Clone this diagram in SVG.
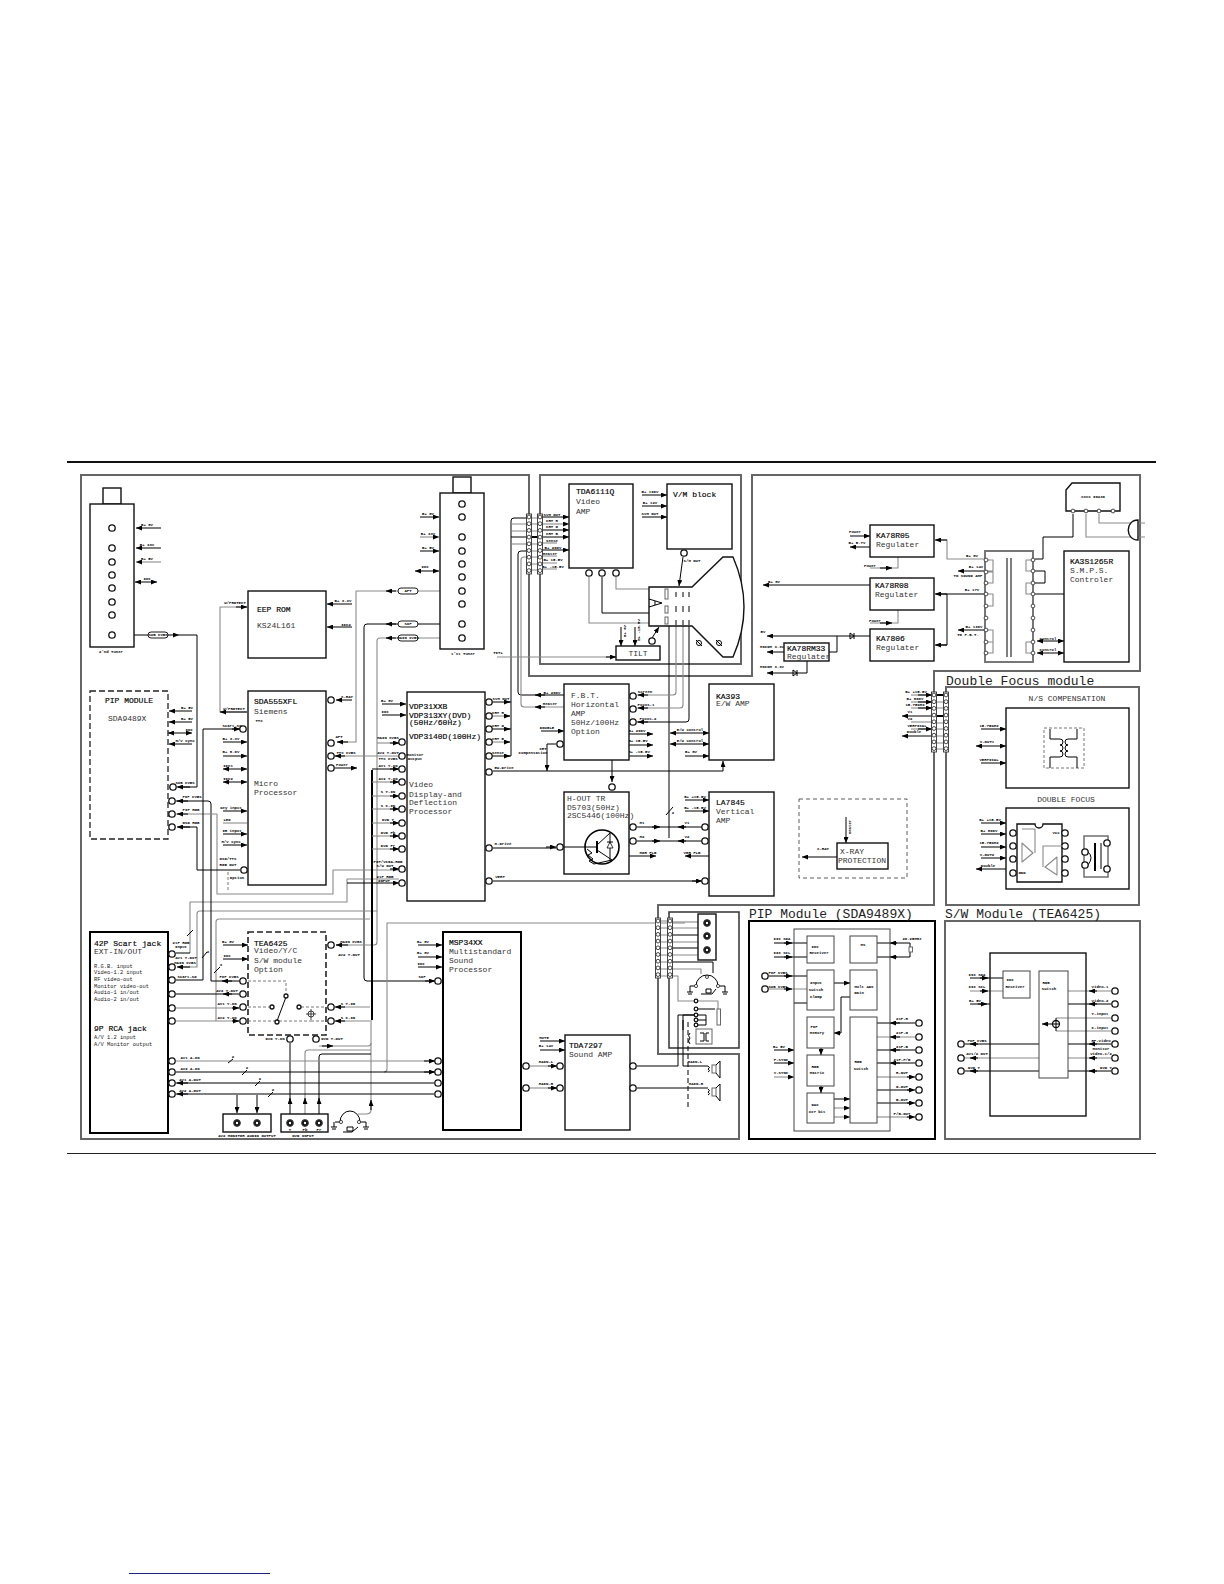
<svg xmlns="http://www.w3.org/2000/svg" width="1224" height="1584" viewBox="0 0 1224 1584">
<style>
text{font-family:"Liberation Mono","DejaVu Sans Mono",monospace;fill:#000}
.l,.m,.k,.h,.n{fill:none;stroke-linejoin:round}
.l{stroke:#000;stroke-width:1}
.m{stroke:#8a8a8a;stroke-width:1.1}
.k{stroke:#000;stroke-width:2}
.e{marker-end:url(#a)}
.d{marker-start:url(#a);marker-end:url(#a)}
.b{fill:#fff;stroke:#111;stroke-width:1.4}
.bn{fill:none;stroke:#111;stroke-width:1.4}
.bb{fill:#fff;stroke:#000;stroke-width:2}
.g{fill:#fff;stroke:#666;stroke-width:1}
.gn{fill:none;stroke:#444;stroke-width:1}
.fr{fill:none;stroke:#666;stroke-width:2}
.dash{fill:none;stroke:#222;stroke-width:1.3;stroke-dasharray:6 3}
.thin{fill:none;stroke:#555;stroke-width:.8;stroke-dasharray:3 2}
.T{font-size:8px;stroke:#000;stroke-width:.15}
.R{font-size:8px;fill:#333}
.H{font-size:13px;fill:#222}
.c8{font-size:8px;fill:#333;text-anchor:middle}
.f5{font-size:5.4px;fill:#222}
.s{font-size:4px;font-weight:bold;text-anchor:middle;dominant-baseline:central}
.p{fill:#fff;stroke:#000;stroke-width:.9}
.o{fill:#fff;stroke:#111;stroke-width:1.3}
.q{fill:#fff;stroke:#333;stroke-width:.9}
.rca{fill:#111;stroke:#444;stroke-width:1}
</style>
<defs>
<marker id="a" markerUnits="userSpaceOnUse" markerWidth="7" markerHeight="5" refX="6" refY="2.5" orient="auto-start-reverse"><path d="M0 0L6 2.5L0 5z" fill="#000"/></marker>
<circle id="o" class="o" r="3.2"/>
<circle id="q" class="q" r="1.9"/>
<g id="st"><rect class="q" x="-2.5" y="-3" width="5" height="60"/><use href="#q" y="0"/><use href="#q" y="6.7"/><use href="#q" y="13.4"/><use href="#q" y="20.1"/><use href="#q" y="26.8"/><use href="#q" y="33.5"/><use href="#q" y="40.2"/><use href="#q" y="46.9"/><use href="#q" y="53.6"/></g>
<g id="rca"><circle class="rca" r="3.4"/><circle r="1.2" fill="#fff"/></g>
</defs>
<rect width="1224" height="1584" fill="#fff"/>

<g id="rules">
<path d="M67 462H1156" stroke="#111" stroke-width="2" fill="none"/>
<path d="M67 1153.5H1156" stroke="#222" stroke-width="1" fill="none"/>
<path d="M129 1573.5H270" stroke="#1a237e" stroke-width="1" fill="none"/>
</g>

<g id="frames">
<path class="fr" d="M81 475H529V676H752V475H1140V671H934V905H658V1054H739V1139H81Z"/>
<path class="fr" d="M540 475H741V664H540Z"/>
<path class="fr" d="M946 687H1139V905H946Z"/>
<path d="M669 912H739V1048H669Z" fill="none" stroke="#333" stroke-width="1.5"/>
<path d="M749 921H935V1139H749Z" fill="none" stroke="#000" stroke-width="2"/>
<path class="fr" d="M945 921H1140V1139H945Z"/>
<text class="H" x="946" y="685">Double Focus module</text>
<text class="H" x="749" y="918">PIP Module (SDA9489X)</text>
<text class="H" x="945" y="918">S/W Module (TEA6425)</text>
</g>

<g id="connectors">
<path class="l e" d="M161 528H136"/><path class="l e" d="M161 548H136"/><path class="m e" d="M161 562H136"/><path class="l d" d="M135 582H157"/>
<path class="l e" d="M115 635H179"/><path class="l" d="M179 635H197V787H178"/>
<path class="l e" d="M190 787H177"/>
<path class="l e" d="M420 517H439"/><path class="m e" d="M420 537H439"/><path class="l e" d="M420 551H439"/><path class="l d" d="M415 571H439"/>
<path class="m" d="M459 591H356V742H338"/><path class="l e" d="M396 591H386"/><path class="l e" d="M348 742H337"/>
<path class="l" d="M459 624H367Q364 624 364 627V978Q364 981 367 981H434"/><path class="l e" d="M396 624H386"/>
<path class="l e" d="M425 981H435"/>
<path class="m" d="M459 638H380Q377 638 377 641V942Q377 945 374 945H336"/><path class="l e" d="M396 638H386"/><path class="l e" d="M348 945H336"/>
<path class="m" d="M377 743H399"/><path class="l e" d="M390 743H399"/>
<path class="m" d="M377 911H200Q197 911 197 914V967H178"/><path class="l e" d="M190 967H177"/>
<path class="m" d="M216 1021V922Q216 919 219 919H370"/>
<path class="m" d="M190 953V902H347V879H399"/><path class="l" d="M190 953H176"/><path class="l e" d="M390 883H399"/><path class="l" d="M347 883H390"/>
<path class="l" d="M187 936L193 930"/><path class="l" d="M202 958L207 952"/><path class="l" d="M214 973L220 967"/>
<text class="s" x="208" y="952">2</text><text class="s" x="221" y="965">3</text>
<path class="m" d="M685 923H387V1069Q387 1072 384 1072"/>
<path class="l e" d="M192 711H169"/><path class="l e" d="M192 722H169"/><path class="l d" d="M168 733H192"/><path class="l e" d="M192 744H169"/>
<path class="l" d="M176 801H208Q211 801 211 804V981H240"/><path class="l e" d="M188 801H177"/><path class="l e" d="M232 981H222"/>
<path class="m" d="M176 814H217V894H333V870H398"/><path class="l e" d="M188 814H177"/><path class="l e" d="M390 869H399"/>
<path class="l" d="M240 870H197V827H178"/><path class="l e" d="M190 827H177"/>
<path class="thin" d="M228 872V892"/>
<path class="l" d="M240 729H203V980H176"/><path class="l e" d="M232 729H240"/>
<path class="l e" d="M223 742H247"/><path class="l e" d="M223 756H247"/><path class="l d" d="M223 769H247"/><path class="l d" d="M223 782H247"/><path class="l e" d="M223 811H247"/><path class="m" d="M223 823H247"/><path class="l e" d="M223 834H247"/><path class="l e" d="M223 845H247"/>
<path class="m" d="M247 712H220V607H247"/><path class="l e" d="M247 712H220"/><path class="l e" d="M236 607H247"/>
<path class="l e" d="M352 604H327"/><path class="l e" d="M352 627H327"/>
<path class="l e" d="M352 700H336"/><path class="m" d="M335 756H398"/><path class="l e" d="M345 756H335"/>
<path class="l e" d="M335 768H357"/>
<path class="l e" d="M382 704H406"/><path class="l e" d="M382 715H406"/>
<path class="k" d="M372 770V1020"/>
<path class="l" d="M372 769H398"/><path class="l e" d="M390 769H399"/>
<path class="m" d="M372 782H398"/><path class="l e" d="M390 782H399"/><path class="m" d="M372 796H398"/><path class="l e" d="M390 796H399"/><path class="m" d="M372 809H398"/><path class="l e" d="M390 809H399"/><path class="m" d="M372 823H398"/><path class="l e" d="M390 823H399"/><path class="m" d="M372 836H398"/><path class="l e" d="M390 836H399"/><path class="m" d="M372 849H398"/><path class="l e" d="M390 849H399"/>
<path class="l e" d="M223 945H248"/><path class="l e" d="M223 959H248"/>
<path class="l" d="M176 994H239"/><path class="l e" d="M232 994H223"/>
<path class="m" d="M176 1008H239"/><path class="l e" d="M232 1008H239"/><path class="m" d="M176 1021H239"/><path class="l e" d="M232 1021H239"/>
<path class="m" d="M371 1020V1110Q371 1114 366 1114H358"/><path class="l e" d="M371 1110V1100"/>
<path class="m" d="M370 1007H336"/><path class="l e" d="M345 1007H335"/><path class="m" d="M370 1021H336"/><path class="l e" d="M345 1021H335"/>
<path class="m" d="M319 1046H368Q371 1046 371 1043"/><path class="l e" d="M322 1046H333"/>
<path class="m" d="M305 1114V1053Q305 1050 308 1050H371"/><path class="l" d="M319 1114V1057Q319 1054 322 1054H371"/>
<path class="l" d="M290 1043V1114"/>
<path class="l e" d="M290 1104V1098"/><path class="l e" d="M305 1104V1098"/><path class="l e" d="M319 1104V1098"/>
<path class="m" d="M176 1061H434"/><path class="l" d="M176 1072H434"/><path class="l" d="M176 1083H434"/><path class="l" d="M176 1094H434"/>
<path class="l e" d="M424 1061H435"/><path class="l e" d="M424 1072H435"/><path class="l e" d="M188 1083H177"/><path class="l e" d="M188 1094H177"/>
<path class="l" d="M228 1063L233 1059M242 1075L247 1070M255 1086L260 1081M268 1097L273 1092"/>
<text class="s" x="233" y="1057">2</text><text class="s" x="247" y="1068">2</text><text class="s" x="260" y="1079">2</text><text class="s" x="273" y="1090">2</text>
<path class="l e" d="M237 1095V1113"/><path class="l e" d="M257 1095V1113"/>
<path class="l e" d="M418 945H442"/><path class="l e" d="M418 957H442"/><path class="l e" d="M418 967H442"/>
<path class="m" d="M530 1066H556"/><path class="l e" d="M548 1066H557"/><path class="m" d="M530 1088H556"/><path class="l e" d="M548 1088H557"/>
<path class="l e" d="M540 1041H565"/><path class="l e" d="M540 1050H565"/>
<path class="l" d="M637 1066H678V1015H697"/><path class="l" d="M637 1088H708"/><path class="l" d="M683 1020V1066H708"/>
<path d="M688 1022V1107" fill="none" stroke="#000" stroke-width="1" stroke-dasharray="5 3"/>
<path class="m" d="M670 922H699"/><path class="m" d="M670 928H707V925"/><path class="l" d="M670 935H707"/><path class="m" d="M670 942H707V939"/><path class="l" d="M670 948H707"/><path class="m" d="M670 955H707V952"/><path class="l" d="M670 962H713V973"/><path class="m" d="M670 969H701V974"/><path class="m" d="M670 976H678V1001H718V1010"/>
<path class="m" d="M660 921H668M660 928H668M660 935H668M660 942H668M660 948H668M660 955H668M660 962H668M660 969H668M660 976H668"/>
<path class="l" d="M527 518H514Q511 518 511 521V756"/><path class="m" d="M527 524H511M527 531H511"/><path class="l" d="M527 537H511"/><path class="m" d="M527 544H511"/>
<path class="l" d="M492 702H511"/><path class="l e" d="M505 702H510"/><path class="m" d="M492 716H511"/><path class="l e" d="M505 716H510"/><path class="l" d="M492 729H511"/><path class="l e" d="M505 729H510"/><path class="m" d="M492 742H511"/><path class="l e" d="M505 742H510"/><path class="l" d="M492 756H511"/><path class="l e" d="M505 756H510"/>
<path class="l" d="M527 551H521Q518 551 518 554V692Q518 695 521 695H564"/><path class="l e" d="M545 695H535"/>
<path class="m" d="M527 557H524Q521 557 521 560V704Q521 707 524 707H564"/><path class="l e" d="M545 707H535"/>
<path class="m" d="M532 518H538M532 524H538M532 531H538M532 544H538M532 551H538M532 557H538M532 564H538M532 570H538"/><path class="k" d="M532 537H538"/>
<path class="l e" d="M543 517H569"/><path class="m e" d="M543 524H569"/><path class="l e" d="M543 530H569"/><path class="l e" d="M543 537H569"/><path class="m" d="M543 543H557"/><path class="l e" d="M543 550H569"/>
<path class="m" d="M543 556H557M543 563H557M543 569H557"/>
<path class="l e" d="M642 495H667"/><path class="l e" d="M642 506H667"/><path class="l e" d="M642 517H667"/>
<path class="m" d="M616 577V589H649"/><path class="l" d="M602 577V613H649"/><path class="m" d="M589 577V623H649"/>
<path class="l e" d="M683 557L679 586"/>
<path class="m" d="M497 657H616"/><path class="l e" d="M606 657H616"/>
<path class="l e" d="M621 627V646"/><path class="l e" d="M635 627V646"/>
<path class="l e" d="M652 638L659 627"/>
<path class="l" d="M669 626V838"/><path class="m" d="M676 626V692Q676 695 673 695H637"/><path class="m" d="M683 626V705Q683 708 680 708H637"/><path class="l" d="M689 626V719Q689 722 686 722H637"/>
<path class="l e" d="M648 695H638"/><path class="l e" d="M648 708H638"/><path class="l e" d="M648 722H638"/>
<path class="l" d="M666 815L673 807"/>
<path class="l e" d="M541 731H564"/><path class="l e" d="M629 734H653"/><path class="l e" d="M629 745H653"/><path class="l e" d="M629 756H653"/>
<path class="l e" d="M556 744H547V771"/>
<path class="l" d="M493 771H723"/><path class="l e" d="M723 771V761"/>
<path class="l e" d="M612 760V782"/>
<path class="l" d="M493 848H556"/><path class="l e" d="M546 847H556"/>
<path class="l" d="M637 827H702"/><path class="l e" d="M652 827H660"/><path class="l e" d="M686 827H678"/><path class="l" d="M637 841H702"/><path class="l e" d="M652 841H660"/><path class="l e" d="M686 841H678"/>
<path class="l e" d="M629 856H656"/><path class="l e" d="M709 856H685"/>
<path class="l" d="M493 881H701"/><path class="l e" d="M692 881H702"/>
<path class="l e" d="M685 800H709"/><path class="l e" d="M685 811H709"/>
<path class="l d" d="M670 733H709"/><path class="l d" d="M670 744H709"/><path class="l e" d="M685 756H709"/>
<path class="l e" d="M850 536H870"/><path class="l e" d="M870 547H850"/>
<path class="m" d="M984 559H947V540H936"/><path class="l e" d="M947 540H935"/>
<path class="l e" d="M985 571H958"/>
<path class="l" d="M984 594H936"/><path class="l e" d="M947 594H935"/><path class="l" d="M947 594V645H936"/><path class="l e" d="M947 645H935"/>
<path class="l e" d="M985 630H958"/>
<path class="m" d="M898 557V568H870"/><path class="l e" d="M880 568H892"/>
<path class="m" d="M898 610V623H870"/><path class="l e" d="M880 623H892"/>
<path class="l e" d="M870 585H763"/>
<path class="l e" d="M870 636H767"/><path class="l" d="M854 633V639M850 633V639L854 636L850 633"/>
<path class="l" d="M837 636V652H829"/><path class="l e" d="M784 652H767"/>
<path class="l" d="M807 661V673"/><path class="l e" d="M807 673H767"/><path class="l" d="M797 670V676M793 670V676L797 673L793 670"/>
<path class="l" d="M1035 559H1043V537H1073V514"/><path class="l" d="M1035 571H1045V583H1035"/><path class="l" d="M1035 594H1064"/>
<path class="m" d="M1086 514V537H1145"/><path class="m" d="M1099 514V523H1145"/>
<path class="l d" d="M1037 641H1064"/><path class="l d" d="M1037 653H1064"/>
<path class="l e" d="M846 817V843"/><path class="l e" d="M837 857H802"/>
<path class="m" d="M911 695H932"/><path class="l e" d="M918 695H932"/><path class="m" d="M911 702H932"/><path class="l e" d="M918 702H932"/><path class="m" d="M911 708H932"/><path class="l e" d="M918 708H932"/><path class="l e" d="M932 716H902"/><path class="m" d="M911 722H932"/><path class="m" d="M911 729H932"/><path class="l e" d="M918 729H932"/><path class="l e" d="M932 736H902"/>
<path class="m" d="M937 702H944M937 708H944M937 723H944M937 729H944M937 736H944M937 743H944M937 749H944"/><path class="k" d="M937 695H944M937 716H944"/>
<path class="l e" d="M981 729H1006"/><path class="l d" d="M976 746H1006"/><path class="l e" d="M981 763H1006"/>
<path class="l e" d="M981 823H1006"/><path class="l e" d="M981 834H1006"/><path class="l e" d="M981 847H1006"/><path class="l e" d="M981 858H1006"/><path class="l e" d="M1006 869H976"/>
<path class="l" d="M774 943H807"/><path class="l e" d="M784 943H792"/><path class="l" d="M774 957H807"/><path class="l e" d="M784 957H792"/>
<path class="l" d="M769 976H807"/><path class="l e" d="M784 976H792"/><path class="m" d="M769 989H807"/><path class="l e" d="M784 989H792"/><path class="l" d="M794 1003H807"/>
<path class="l e" d="M774 1050H794"/><path class="l e" d="M774 1063H794"/><path class="m e" d="M774 1077H794"/>
<path class="l" d="M877 943H910V947M910 952V957H877"/><path class="l e" d="M897 943H890"/><path class="l e" d="M897 957H890"/>
<path class="l e" d="M834 983H850"/><path class="l" d="M850 997H841V1033"/><path class="l e" d="M841 1033H834"/>
<path class="l e" d="M821 1048V1055"/><path class="l e" d="M821 1086V1093"/>
<path class="l e" d="M834 1099H850"/><path class="m e" d="M834 1108H850"/><path class="m e" d="M834 1117H850"/>
<path class="l" d="M877 1023H915"/><path class="l e" d="M900 1023H890"/><path class="m" d="M877 1037H915"/><path class="l e" d="M900 1037H890"/><path class="l" d="M877 1050H915"/><path class="l e" d="M900 1050H890"/><path class="l" d="M877 1063H915"/><path class="l e" d="M900 1063H890"/>
<path class="m" d="M877 1077H909"/><path class="l e" d="M907 1077H915"/><path class="l" d="M877 1090H909"/><path class="l e" d="M907 1090H915"/><path class="l" d="M877 1103H909"/><path class="l e" d="M907 1103H915"/><path class="m" d="M877 1117H909"/><path class="l e" d="M907 1117H915"/>
<path class="l" d="M970 978H1003"/><path class="l e" d="M980 978H988"/><path class="m" d="M970 991H1003"/><path class="l e" d="M980 991H988"/><path class="l" d="M970 1004H990"/><path class="l e" d="M978 1004H987"/>
<path class="m" d="M1068 991H1111"/><path class="l e" d="M1097 991H1089"/><path class="l" d="M1068 1004H1111"/><path class="l e" d="M1097 1004H1089"/>
<path class="m" d="M1056 1018H1111"/><path class="m" d="M1056 1031H1111"/><path class="l" d="M1056 1018V1031"/>
<path class="l e" d="M1052 1024H1042"/>
<path class="l" d="M1068 1044H1111"/><path class="l e" d="M1097 1044H1089"/><path class="m" d="M1068 1058H1111"/><path class="l e" d="M1097 1058H1089"/><path class="l" d="M1068 1071H1111"/><path class="l e" d="M1097 1071H1089"/>
<path class="l" d="M965 1044H1039"/><path class="l e" d="M978 1044H970"/><path class="m" d="M965 1058H1039"/><path class="l e" d="M978 1058H970"/><path class="l" d="M965 1071H1039"/><path class="l e" d="M978 1071H970"/>
</g>

<g id="edge-labels">
<rect class="p" x="148" y="632" width="20" height="6" rx="3"/><text class="s" x="158" y="635">SUB CVBS</text>
<rect class="p" x="398" y="588" width="20" height="6" rx="3"/><text class="s" x="408" y="591">AFT</text>
<rect class="p" x="398" y="621" width="20" height="6" rx="3"/><text class="s" x="408" y="624">SIF</text>
<rect class="p" x="398" y="635" width="20" height="6" rx="3"/><text class="s" x="408" y="638">MAIN CVBS</text>
<text class="s" x="147" y="525">B+ 8V</text><text class="s" x="147" y="545">B+ 33V</text><text class="s" x="147" y="559">B+ 5V</text><text class="s" x="147" y="579">IIC</text>
<text class="s" x="428" y="514">B+ 8V</text><text class="s" x="428" y="534">B+ 33V</text><text class="s" x="428" y="548">B+ 5V</text><text class="s" x="425" y="567">IIC</text>
<text class="s" x="343" y="601">B+ 3.3V</text><text class="s" x="346" y="625">IIC2</text><text class="s" x="235" y="603">W/PROTECT</text><text class="s" x="234" y="709">W/PROTECT</text>
<text class="s" x="498" y="653">TITL</text>
<text class="s" x="187" y="708">B+ 5V</text><text class="s" x="187" y="719">B+ 5V</text><text class="s" x="189" y="730">IIC</text><text class="s" x="185" y="741">H/V sync</text>
<text class="s" x="185" y="783">SUB CVBS</text><text class="s" x="192" y="797">PIP CVBS</text><text class="s" x="191" y="810">PIP RGB</text><text class="s" x="191" y="823">OSD RGB</text>
<text class="s" x="232" y="726">Scart-SO</text><text class="s" x="231" y="739">B+ 3.3V</text><text class="s" x="231" y="752">B+ 8.0V</text><text class="s" x="228" y="766">IIC1</text><text class="s" x="228" y="779">IIC2</text><text class="s" x="231" y="808">Key input</text><text class="s" x="227" y="820">LED</text><text class="s" x="232" y="831">IR input</text><text class="s" x="231" y="842">H/V sync</text><text class="s" x="228" y="859">OSD/TTX</text><text class="s" x="228" y="865">RGB OUT</text><text class="s" x="237" y="878">Option</text>
<text class="s" x="347" y="697">X-RAY</text><text class="s" x="339" y="737">AFT</text><text class="s" x="346" y="753">TTX CVBS</text><text class="s" x="342" y="765">Power</text>
<text class="s" x="387" y="701">B+ 8V</text><text class="s" x="385" y="712">IIC</text><text class="s" x="388" y="738">MAIN CVBS</text><text class="s" x="388" y="753">AV2 Y-OUT</text><text class="s" x="388" y="759">TTX CVBS</text><text class="s" x="388" y="766">AV1 Y-IN</text><text class="s" x="388" y="779">AV2 Y-IN</text><text class="s" x="388" y="792">S Y-IN</text><text class="s" x="388" y="806">S C-IN</text><text class="s" x="388" y="820">DVD Y</text><text class="s" x="388" y="833">DVD Pb</text><text class="s" x="388" y="846">DVD Pr</text><text class="s" x="388" y="862">PIP/VCGA-RGB</text><text class="s" x="385" y="866">S/W OUT</text><text class="s" x="385" y="877">21P RGB</text><text class="s" x="384" y="881">INPUT</text>
<text class="s" x="501" y="699">SVM OUT</text><text class="s" x="498" y="713">CRT R</text><text class="s" x="498" y="726">CRT G</text><text class="s" x="498" y="739">CRT B</text><text class="s" x="498" y="753">Sense</text><text class="s" x="504" y="768">EW-Drive</text><text class="s" x="503" y="844">H-Drive</text><text class="s" x="500" y="877">VERT</text>
<text class="s" x="552" y="515">SVM OUT</text><text class="s" x="552" y="521">CRT R</text><text class="s" x="552" y="527">CRT G</text><text class="s" x="552" y="534">CRT B</text><text class="s" x="552" y="541">Sense</text><text class="s" x="553" y="548">B+ 200V</text><text class="s" x="550" y="554">Heater</text><text class="s" x="553" y="560">B+ 15.5V</text><text class="s" x="553" y="567">B+ -15.5V</text>
<text class="s" x="650" y="492">B+ 190V</text><text class="s" x="650" y="503">B+ 12V</text><text class="s" x="650" y="514">SVM OUT</text><text class="s" x="692" y="561">S/M OUT</text>
<text class="s" transform="translate(625 631) rotate(-90)">B+ 8V</text><text class="s" transform="translate(639 630) rotate(-90)">B+ -15.5V</text>
<text class="s" x="552" y="693">B+ 200V</text><text class="s" x="550" y="704">Heater</text><text class="s" x="547" y="728">DOUBLE</text><text class="s" x="543" y="749">CRT</text><text class="s" x="533" y="753">Compensation</text><text class="s" x="612" y="755">COIL</text>
<text class="s" x="645" y="692">Screen</text><text class="s" x="646" y="705">Focus-1</text><text class="s" x="648" y="719">Focus-2</text><text class="s" x="637" y="731">B+ 200V</text><text class="s" x="638" y="741">B+ 15.5V</text><text class="s" x="639" y="752">B+ -15.5V</text>
<text class="s" x="642" y="823">H1</text><text class="s" x="642" y="837">H2</text><text class="s" x="687" y="823">V1</text><text class="s" x="687" y="837">V2</text><text class="s" x="648" y="853">HOR FLB</text><text class="s" x="692" y="853">VER FLB</text><text class="s" x="695" y="797">B+ +15.5V</text><text class="s" x="695" y="808">B+ -15.5V</text><text class="s" x="690" y="730">E/W control</text><text class="s" x="690" y="741">E/W control</text><text class="s" x="691" y="752">B+ 8V</text><text class="s" x="673" y="813">2</text>
<text class="s" x="855" y="532">Power</text><text class="s" x="857" y="543">B+ 5.7V</text><text class="s" x="870" y="566">Power</text><text class="s" x="875" y="621">Power</text>
<text class="s" x="972" y="556">B+ 8V</text><text class="s" x="976" y="567">B+ 14V</text><text class="s" x="968" y="576">TO SOUND AMP</text><text class="s" x="972" y="590">B+ 17V</text><text class="s" x="974" y="627">B+ 130V</text><text class="s" x="968" y="635">TO F.B.T.</text>
<text class="s" x="774" y="582">B+ 8V</text><text class="s" x="763" y="632">5V</text><text class="s" x="772" y="647">MICOM 3.3V</text><text class="s" x="772" y="667">MICOM 3.3V</text>
<text class="s" x="1048" y="639">Control</text><text class="s" x="1048" y="650">Control</text>
<text class="s" x="916" y="692">B+ +15.5V</text><text class="s" x="915" y="699">B+ 800V</text><text class="s" x="915" y="705">15.75KHZ</text><text class="s" x="910" y="712">V1</text><text class="s" x="910" y="719">V2</text><text class="s" x="917" y="726">VERTICAL</text><text class="s" x="914" y="732">Double</text>
<text class="s" x="989" y="726">15.75KHZ</text><text class="s" x="987" y="742">V-OUT1</text><text class="s" x="989" y="760">VERTICAL</text>
<text class="s" x="990" y="820">B+ +15.5V</text><text class="s" x="989" y="831">B+ 800V</text><text class="s" x="989" y="843">15.75KHZ</text><text class="s" x="987" y="855">V-OUT2</text><text class="s" x="988" y="866">Double</text>
<text class="s" transform="translate(850 827) rotate(-90)">Heater</text><text class="s" x="823" y="849">X-RAY</text>
<text class="s" x="228" y="942">B+ 8V</text><text class="s" x="227" y="956">IIC</text><text class="s" x="229" y="977">PIP CVBS</text><text class="s" x="227" y="991">AV2 Y-OUT</text><text class="s" x="227" y="1004">AV1 Y-IN</text><text class="s" x="227" y="1018">AV2 Y-IN</text>
<text class="s" x="181" y="943">21P RGB</text><text class="s" x="181" y="947">Input</text><text class="s" x="186" y="958">AV1 Y-OUT</text><text class="s" x="185" y="963">MAIN CVBS</text><text class="s" x="187" y="977">Scart-SO</text>
<text class="s" x="351" y="942">MAIN CVBS</text><text class="s" x="349" y="955">AV2 Y-OUT</text><text class="s" x="348" y="1004">S Y-IN</text><text class="s" x="348" y="1018">S C-IN</text><text class="s" x="275" y="1039">DVD Y-IN</text><text class="s" x="332" y="1039">DVD Y-OUT</text>
<text class="s" x="190" y="1058">AV1 A-IN</text><text class="s" x="190" y="1069">AV2 A-IN</text><text class="s" x="190" y="1080">AV1 A-OUT</text><text class="s" x="190" y="1091">AV2 A-OUT</text>
<text class="s" x="423" y="942">B+ 8V</text><text class="s" x="423" y="953">B+ 8V</text><text class="s" x="421" y="964">IIC</text><text class="s" x="422" y="977">SIF</text>
<text class="s" x="544" y="1038">MUTE</text><text class="s" x="546" y="1046">B+ 14V</text><text class="s" x="546" y="1062">MAIN-L</text><text class="s" x="546" y="1084">MAIN-R</text><text class="s" x="695" y="1062">MAIN-L</text><text class="s" x="696" y="1084">MAIN-R</text>
<text class="s" x="782" y="939">IIC SDA</text><text class="s" x="782" y="953">IIC SCL</text><text class="s" x="778" y="973">PIP CVBS</text><text class="s" x="778" y="987">SUB CVBS</text><text class="s" x="779" y="1047">B+ 5V</text><text class="s" x="781" y="1060">F-SYNC</text><text class="s" x="781" y="1073">V-SYNC</text><text class="s" x="912" y="939">20.25MHz</text>
<text class="s" x="902" y="1019">21P-R</text><text class="s" x="902" y="1033">21P-G</text><text class="s" x="902" y="1047">21P-B</text><text class="s" x="902" y="1060">21P-F/B</text><text class="s" x="902" y="1073">R-OUT</text><text class="s" x="902" y="1087">G-OUT</text><text class="s" x="902" y="1100">B-OUT</text><text class="s" x="902" y="1114">F/B-OUT</text>
<text class="s" x="977" y="975">IIC SDA</text><text class="s" x="977" y="987">IIC SCL</text><text class="s" x="975" y="1001">B+ 5V</text><text class="s" x="977" y="1041">PIP CVBS</text><text class="s" x="977" y="1054">AV1/2 OUT</text><text class="s" x="974" y="1068">DVD Y</text>
<text class="s" x="1100" y="987">Video-1</text><text class="s" x="1100" y="1001">Video-2</text><text class="s" x="1100" y="1014">Y-input</text><text class="s" x="1100" y="1028">C-input</text><text class="s" x="1101" y="1041">RF-video</text><text class="s" x="1101" y="1049">Monitor</text><text class="s" x="1101" y="1054">Video-1/2</text><text class="s" x="1106" y="1068">DVD Y</text>
</g>

<g id="tuner2"><rect class="b" x="103" y="488" width="18" height="16"/><rect class="b" x="90" y="504" width="44" height="143"/>
<use href="#o" x="112" y="528"/><use href="#o" x="112" y="548"/><use href="#o" x="112" y="562"/><use href="#o" x="112" y="575"/><use href="#o" x="112" y="588"/><use href="#o" x="112" y="602"/><use href="#o" x="112" y="615"/><use href="#o" x="112" y="635"/>
<text class="s" x="111" y="652">2'nd Tuner</text></g>

<g id="tuner1"><rect class="b" x="453" y="477" width="18" height="16"/><rect class="b" x="440" y="493" width="44" height="156"/>
<use href="#o" x="462" y="504"/><use href="#o" x="462" y="517"/><use href="#o" x="462" y="537"/><use href="#o" x="462" y="551"/><use href="#o" x="462" y="564"/><use href="#o" x="462" y="577"/><use href="#o" x="462" y="591"/><use href="#o" x="462" y="604"/><use href="#o" x="462" y="624"/><use href="#o" x="462" y="638"/>
<text class="s" x="463" y="654">1'st Tuner</text></g>

<g id="eeprom"><rect class="b" x="248" y="591" width="78" height="67"/><text class="T" x="257" y="612">EEP ROM</text><text class="R" x="257" y="628">KS24L161</text></g>

<g id="pip-module"><rect class="dash" x="90" y="691" width="78" height="148"/><text class="T" x="105" y="703">PIP MODULE</text><text class="R" x="108" y="721">SDA9489X</text>
<use href="#o" x="173" y="787"/><use href="#o" x="172" y="801"/><use href="#o" x="172" y="814"/><use href="#o" x="172" y="827"/></g>

<g id="sda"><rect class="b" x="248" y="691" width="78" height="194"/><text class="T" x="254" y="704">SDA555XFL</text><text class="R" x="254" y="714">Siemens</text><text class="s" x="259" y="721">TTX</text><text class="R" x="254" y="786">Micro</text><text class="R" x="254" y="795">Processor</text>
<use href="#o" x="243" y="729"/><use href="#o" x="244" y="870"/><use href="#o" x="331" y="700"/><use href="#o" x="331" y="743"/><use href="#o" x="331" y="756"/><use href="#o" x="331" y="768"/></g>

<g id="vdp"><rect class="b" x="407" y="692" width="78" height="209"/><text class="T" x="409" y="709">VDP31XXB</text><text class="T" x="409" y="718">VDP313XY(DVD)</text><text class="T" x="409" y="725">(50Hz/60Hz)</text><text class="T" x="409" y="739">VDP3140D(100Hz)</text><text class="R" x="409" y="787">Video</text><text class="R" x="409" y="797">Display-and</text><text class="R" x="409" y="805">Deflection</text><text class="R" x="409" y="814">Processor</text>
<text class="s" x="415" y="755">Monitor</text><text class="s" x="415" y="759">Output</text>
<use href="#o" x="402" y="742"/><use href="#o" x="402" y="756"/><use href="#o" x="402" y="769"/><use href="#o" x="402" y="782"/><use href="#o" x="402" y="796"/><use href="#o" x="402" y="809"/><use href="#o" x="402" y="823"/><use href="#o" x="402" y="836"/><use href="#o" x="402" y="849"/><use href="#o" x="402" y="869"/><use href="#o" x="402" y="883"/>
<use href="#o" x="489" y="702"/><use href="#o" x="489" y="716"/><use href="#o" x="489" y="729"/><use href="#o" x="489" y="742"/><use href="#o" x="489" y="756"/><use href="#o" x="489" y="772"/><use href="#o" x="489" y="848"/><use href="#o" x="489" y="881"/></g>

<g id="tda6111"><rect class="b" x="569" y="484" width="64" height="84"/><text class="T" x="576" y="494">TDA6111Q</text><text class="R" x="576" y="504">Video</text><text class="R" x="576" y="514">AMP</text><use href="#o" x="589" y="573"/><use href="#o" x="602" y="573"/><use href="#o" x="616" y="573"/></g>
<g id="vm-block"><rect class="b" x="667" y="484" width="65" height="65"/><text class="T" x="673" y="497">V/M block</text><use href="#o" x="684" y="553"/></g>

<g id="crt"><path class="b" d="M649 587H692L723 557H733Q755 607 733 657H723L692 626H649Z"/>
<rect class="g" x="665" y="589" width="3" height="10"/><rect class="g" x="665" y="606" width="3" height="7"/><rect class="g" x="665" y="617" width="3" height="7"/>
<path class="l" d="M649 599L662 603L649 607M655 601V605"/>
<path class="l" d="M676 592V597M683 592V597M689 592V597M676 606V612M683 606V612M689 606V612M676 620V625M683 620V625M689 620V625"/>
<circle class="l" cx="699" cy="643" r="2.5"/><circle class="l" cx="719" cy="643" r="2.5"/><path class="l" d="M696 640L702 646M716 640L722 646"/>
<use href="#o" x="652" y="641"/></g>
<g id="tilt"><rect class="b" x="616" y="646" width="44" height="14"/><text class="c8" x="638" y="656">TILT</text></g>

<g id="connector-a"><use href="#st" x="529" y="517"/><use href="#st" x="540" y="517"/></g>
<g id="connector-b"><use href="#st" x="658" y="921"/><use href="#st" x="670" y="921"/></g>
<g id="connector-c"><use href="#st" x="934" y="695"/><use href="#st" x="946" y="695"/></g>

<g id="fbt"><rect class="b" x="564" y="684" width="65" height="76"/><text class="R" x="571" y="698">F.B.T.</text><text class="R" x="571" y="707">Horizontal</text><text class="R" x="571" y="716">AMP</text><text class="R" x="571" y="725">50Hz/100Hz</text><text class="R" x="571" y="734">Option</text>
<use href="#o" x="560" y="744"/><use href="#o" x="633" y="696"/><use href="#o" x="633" y="709"/><use href="#o" x="633" y="722"/></g>
<g id="ka393"><rect class="b" x="709" y="684" width="65" height="76"/><text class="T" x="716" y="699">KA393</text><text class="R" x="716" y="706">E/W AMP</text></g>
<g id="h-out"><rect class="b" x="564" y="792" width="65" height="82"/><text class="R" x="567" y="801">H-OUT TR</text><text class="R" x="567" y="810">D5703(50Hz)</text><text class="R" x="567" y="818">2SC5446(100Hz)</text>
<circle cx="602" cy="847" r="17" fill="#fff" stroke="#000" stroke-width="1.6"/><path class="l" d="M564 847H597M597 845L610 833V861M597 850L612 860"/><path class="k" d="M597 841V853"/><path class="l" d="M587 849L592 853L588 855L593 859L589 861L594 864L612 860"/><path d="M607 848H613L610 842Z" fill="#fff" stroke="#000" stroke-width=".8"/><path class="l" d="M607 842H613"/>
<use href="#o" x="560" y="847"/><use href="#o" x="612" y="787"/><use href="#o" x="633" y="827"/><use href="#o" x="633" y="841"/></g>
<g id="la7845"><rect class="b" x="709" y="792" width="65" height="104"/><text class="T" x="716" y="805">LA7845</text><text class="R" x="716" y="814">Vertical</text><text class="R" x="716" y="823">AMP</text><use href="#o" x="705" y="827"/><use href="#o" x="705" y="841"/><use href="#o" x="705" y="881"/></g>

<g id="ka78r05"><rect class="b" x="870" y="525" width="64" height="32"/><text class="T" x="876" y="538">KA78R05</text><text class="R" x="876" y="547">Regulater</text></g>
<g id="ka78r08"><rect class="b" x="870" y="578" width="64" height="32"/><text class="T" x="875" y="588">KA78R08</text><text class="R" x="875" y="597">Regulater</text></g>
<g id="ka7806"><rect class="b" x="870" y="629" width="64" height="32"/><text class="T" x="876" y="641">KA7806</text><text class="R" x="876" y="650">Regulater</text></g>
<g id="ka78rm33"><rect class="b" x="784" y="643" width="45" height="18"/><text class="T" x="787" y="651">KA78RM33</text><text class="R" x="787" y="659">Regulater</text></g>
<g id="ka3s1265"><rect class="b" x="1064" y="551" width="65" height="111"/><text class="T" x="1070" y="564">KA3S1265R</text><text class="R" x="1070" y="573">S.M.P.S.</text><text class="R" x="1070" y="582">Controler</text></g>
<g id="transformer"><rect x="985" y="551" width="48" height="111" fill="#fff" stroke="#777" stroke-width="2"/>
<path class="l" d="M1007 558V657M1011 558V657"/>
<path class="m" d="M987 560H993V571H987M987 572H993V583H987M987 594H993V606H987M987 630H993V642H987M987 642H993V653H987M1031 560H1026V571H1031M1031 583H1026V594H1031M1031 642H1026V653H1031"/>
<use href="#q" x="986" y="560"/><use href="#q" x="986" y="572"/><use href="#q" x="986" y="583"/><use href="#q" x="986" y="594"/><use href="#q" x="986" y="606"/><use href="#q" x="986" y="618"/><use href="#q" x="986" y="630"/><use href="#q" x="986" y="642"/><use href="#q" x="986" y="653"/>
<use href="#q" x="1033" y="560"/><use href="#q" x="1033" y="571"/><use href="#q" x="1033" y="583"/><use href="#q" x="1033" y="594"/><use href="#q" x="1033" y="606"/><use href="#q" x="1033" y="618"/><use href="#q" x="1033" y="630"/><use href="#q" x="1033" y="642"/><use href="#q" x="1033" y="653"/></g>
<g id="bridge"><path class="b" d="M1066 511V490L1072 483H1120V511Z"/><text class="s" x="1093" y="497">XXXX 90230</text><use href="#q" x="1073" y="511"/><use href="#q" x="1086" y="511"/><use href="#q" x="1099" y="511"/><use href="#q" x="1113" y="511"/></g>
<g id="plug"><path class="b" d="M1138 520C1125 520 1125 540 1138 540Z"/></g>

<g id="xray"><rect x="799" y="799" width="108" height="79" fill="none" stroke="#333" stroke-width=".8" stroke-dasharray="4 3"/><rect class="b" x="837" y="843" width="51" height="26"/><text class="R" x="840" y="854">X-RAY</text><text class="R" x="838" y="863">PROTECTION</text></g>

<g id="ns-comp"><text class="c8" x="1067" y="701">N/S COMPENSATION</text><rect class="bn" x="1006" y="708" width="123" height="80"/><rect class="thin" x="1044" y="728" width="40" height="40"/>
<path class="l" d="M1050 729V739H1060a3 3 0 0 1 0 6a3 3 0 0 1 0 6a3 3 0 0 1 0 6H1050V768M1077 729V739H1068a3 3 0 0 0 0 6a3 3 0 0 0 0 6a3 3 0 0 0 0 6H1077V768"/></g>
<g id="double-focus"><text class="c8" x="1066" y="802">DOUBLE FOCUS</text><rect class="bn" x="1006" y="808" width="123" height="81"/>
<path class="b" d="M1017 824H1035A4 4 0 0 0 1043 824H1062V882H1017Z"/>
<use href="#o" x="1013" y="833"/><use href="#o" x="1013" y="846"/><use href="#o" x="1013" y="859"/><use href="#o" x="1013" y="873"/><use href="#o" x="1065" y="833"/><use href="#o" x="1065" y="846"/><use href="#o" x="1065" y="859"/><use href="#o" x="1065" y="873"/>
<path class="m" d="M1022 843V862L1033 853ZM1057 857V875L1045 867Z"/><path class="m" d="M1022 829H1035V853M1062 846H1043V867"/>
<text class="s" x="1022" y="873">GND</text><text class="s" x="1056" y="833">Vcc</text>
<rect x="1084" y="836" width="24" height="41" fill="#fff" stroke="#666" stroke-width="1.4"/><path class="k" d="M1095 843V871"/><path class="l" d="M1088 852Q1094 857 1088 865M1101 843V869"/>
<circle class="o" cx="1085" cy="852" r="3.2"/><circle class="o" cx="1085" cy="865" r="3.2"/><circle class="o" cx="1107" cy="843" r="3.2"/><circle class="o" cx="1107" cy="869" r="3.2"/></g>

<g id="scart"><rect class="bb" x="90" y="932" width="78" height="201"/><text class="T" x="94" y="946">42P Scart jack</text><text class="R" x="94" y="954">EXT-IN/OUT</text>
<text class="f5" x="94" y="968">R.G.B. input</text><text class="f5" x="94" y="974">Video-1.2 input</text><text class="f5" x="94" y="981">RF video-out</text><text class="f5" x="94" y="988">Monitor video-out</text><text class="f5" x="94" y="994">Audio-1 in/out</text><text class="f5" x="94" y="1001">Audio-2 in/out</text>
<text class="T" x="94" y="1031">9P RCA jack</text><text class="f5" x="94" y="1039">A/V 1.2 input</text><text class="f5" x="94" y="1046">A/V Monitor output</text>
<use href="#o" x="172" y="954"/><use href="#o" x="172" y="967"/><use href="#o" x="172" y="980"/><use href="#o" x="172" y="994"/><use href="#o" x="172" y="1008"/><use href="#o" x="172" y="1021"/><use href="#o" x="172" y="1061"/><use href="#o" x="172" y="1072"/><use href="#o" x="172" y="1083"/><use href="#o" x="172" y="1094"/></g>

<g id="tea6425"><rect class="dash" x="248" y="932" width="78" height="103" style="stroke-width:1.6"/><text class="T" x="254" y="946">TEA6425</text><text class="R" x="254" y="953">Video/Y/C</text><text class="R" x="254" y="963">S/W module</text><text class="R" x="254" y="972">Option</text>
<path class="thin" d="M248 981H286V992M248 1007H270M248 1021H275M279 1021H311M301 1007H326M311 1021H326"/>
<path class="l" d="M286 997L277 1021"/>
<circle class="o" cx="286" cy="996" r="2"/><circle class="o" cx="272" cy="1007" r="2"/><circle class="o" cx="277" cy="1022" r="2"/><circle class="o" cx="299" cy="1007" r="2"/>
<circle class="o" cx="311" cy="1014" r="3" style="stroke-width:.8"/><path class="l" d="M311 1009V1020M306 1014H316" style="stroke-width:.7"/>
<use href="#o" x="243" y="981"/><use href="#o" x="243" y="994"/><use href="#o" x="243" y="1007"/><use href="#o" x="243" y="1021"/><use href="#o" x="331" y="945"/><use href="#o" x="331" y="1007"/><use href="#o" x="331" y="1021"/><use href="#o" x="290" y="1039"/><use href="#o" x="316" y="1039"/></g>

<g id="monitor-out"><rect class="b" x="223" y="1114" width="48" height="18"/><use href="#rca" x="237" y="1123"/><use href="#rca" x="257" y="1123"/><text class="s" x="247" y="1136">AV2 MONITOR AUDIO OUTPUT</text></g>
<g id="dvd-input"><rect class="b" x="281" y="1114" width="47" height="18"/><use href="#rca" x="290" y="1123"/><use href="#rca" x="305" y="1123"/><use href="#rca" x="319" y="1123"/><text class="s" x="290" y="1130">Y</text><text class="s" x="305" y="1130">Pb</text><text class="s" x="319" y="1130">Pr</text><text class="s" x="303" y="1136">DVD INPUT</text></g>
<g id="svhs"><path class="l" d="M340 1122A10 11 0 0 1 360 1122M335 1122H341M359 1122H366M334 1122V1127M331 1127H337M332 1129H336M366 1122V1127M363 1127H369M364 1129H368M343 1132H352L358 1127M347 1127H353V1131H347Z"/><circle class="q" cx="341" cy="1122" r="1.6"/><circle class="q" cx="359" cy="1122" r="1.6"/></g>

<g id="msp34xx"><rect class="bb" x="443" y="932" width="78" height="198"/><text class="T" x="449" y="945">MSP34XX</text><text class="R" x="449" y="954">Multistandard</text><text class="R" x="449" y="963">Sound</text><text class="R" x="449" y="972">Processor</text>
<use href="#o" x="438" y="981"/><use href="#o" x="438" y="1061"/><use href="#o" x="438" y="1072"/><use href="#o" x="438" y="1083"/><use href="#o" x="438" y="1094"/><use href="#o" x="526" y="1066"/><use href="#o" x="526" y="1088"/></g>
<g id="tda7297"><rect class="b" x="565" y="1035" width="65" height="95"/><text class="T" x="569" y="1048">TDA7297</text><text class="R" x="569" y="1057">Sound AMP</text><use href="#o" x="560" y="1066"/><use href="#o" x="560" y="1088"/><use href="#o" x="633" y="1066"/><use href="#o" x="633" y="1088"/></g>
<g id="speaker-l"><rect class="g" x="712" y="1065" width="4" height="8"/><path class="l" d="M716 1065L720 1061V1078L716 1073M708 1066Q711 1068 708 1069Q711 1071 708 1072"/></g>
<g id="speaker-r"><rect class="g" x="712" y="1088" width="4" height="8"/><path class="l" d="M716 1088L720 1084V1101L716 1096M708 1089Q711 1091 708 1092Q711 1094 708 1095"/></g>

<g id="rca-block"><rect class="b" x="698" y="914" width="18" height="46"/><use href="#rca" x="707" y="923"/><use href="#rca" x="707" y="936"/><use href="#rca" x="707" y="950"/></g>
<g id="svhs-2"><path class="l" d="M696 986A11 11 0 0 1 718 986M690 986H696M718 986H725M690 986V992M687 992H693M688 994H692M725 986V992M722 992H728M723 994H727M701 994H712L716 989M706 989H711V993H706Z"/><circle class="q" cx="696" cy="986" r="1.6"/><circle class="q" cx="718" cy="986" r="1.6"/><circle class="q" cx="707" cy="977" r="1.5"/></g>
<g id="headphone"><rect class="g" x="717" y="1009" width="3.5" height="16"/><path class="l" d="M698 1009H715M697 1015H706V1025H698M698 1020H706M683 1030V1015H696"/>
<circle class="o" cx="696" cy="1001" r="1.8"/><circle class="o" cx="696" cy="1009" r="1.8"/><circle class="o" cx="696" cy="1015" r="1.8"/><circle class="o" cx="696" cy="1020" r="1.8"/><circle class="o" cx="696" cy="1025" r="1.8"/>
<rect class="g" x="696" y="1029" width="16" height="15"/><path class="l" d="M700 1033H704V1041H700M706 1033H709M706 1033V1041H709"/><path class="l" d="M690 1033Q687 1036 690 1038Q687 1041 690 1044"/></g>

<g id="pip-sda9489"><rect class="gn" x="794" y="929" width="96" height="202"/>
<rect class="gn" x="807" y="936" width="27" height="27"/><text class="s" x="815" y="947">IIC</text><text class="s" x="819" y="953">Receiver</text>
<rect class="gn" x="850" y="936" width="27" height="27"/><text class="s" x="863" y="945">HS</text>
<rect class="gn" x="807" y="970" width="27" height="40"/><text class="s" x="816" y="983">Input</text><text class="s" x="816" y="990">Switch</text><text class="s" x="816" y="997">Clamp</text>
<rect class="gn" x="850" y="970" width="27" height="40"/><text class="s" x="864" y="987">Mult ADC</text><text class="s" x="859" y="993">Gain</text>
<rect class="gn" x="807" y="1017" width="27" height="31"/><text class="s" x="814" y="1027">PIP</text><text class="s" x="817" y="1033">Memory</text>
<rect class="gn" x="807" y="1055" width="27" height="31"/><text class="s" x="815" y="1067">RGB</text><text class="s" x="817" y="1073">Matrix</text>
<rect class="gn" x="807" y="1093" width="27" height="30"/><text class="s" x="815" y="1105">DAC</text><text class="s" x="817" y="1112">3x7 bit</text>
<rect class="gn" x="850" y="1017" width="27" height="106"/><text class="s" x="858" y="1062">RGB</text><text class="s" x="861" y="1069">Switch</text>
<rect class="g" x="909" y="947" width="3.5" height="5"/>
<use href="#o" x="765" y="976"/><use href="#o" x="765" y="989"/><use href="#o" x="919" y="1023"/><use href="#o" x="919" y="1037"/><use href="#o" x="919" y="1050"/><use href="#o" x="919" y="1063"/><use href="#o" x="919" y="1077"/><use href="#o" x="919" y="1090"/><use href="#o" x="919" y="1103"/><use href="#o" x="919" y="1117"/></g>

<g id="sw-tea6425"><rect class="bn" x="990" y="953" width="96" height="163"/>
<rect class="gn" x="1003" y="971" width="27" height="27"/><text class="s" x="1010" y="980">IIC</text><text class="s" x="1015" y="987">Receiver</text>
<rect class="gn" x="1039" y="971" width="29" height="107"/><text class="s" x="1046" y="983">RGB</text><text class="s" x="1049" y="989">Switch</text>
<circle class="o" cx="1056" cy="1024" r="3.5"/><path class="l" d="M1056 1020V1028M1052 1024H1060"/>
<use href="#o" x="961" y="1044"/><use href="#o" x="961" y="1058"/><use href="#o" x="961" y="1071"/><use href="#o" x="1115" y="991"/><use href="#o" x="1115" y="1004"/><use href="#o" x="1115" y="1018"/><use href="#o" x="1115" y="1031"/><use href="#o" x="1115" y="1044"/><use href="#o" x="1115" y="1058"/><use href="#o" x="1115" y="1071"/></g>
</svg>
